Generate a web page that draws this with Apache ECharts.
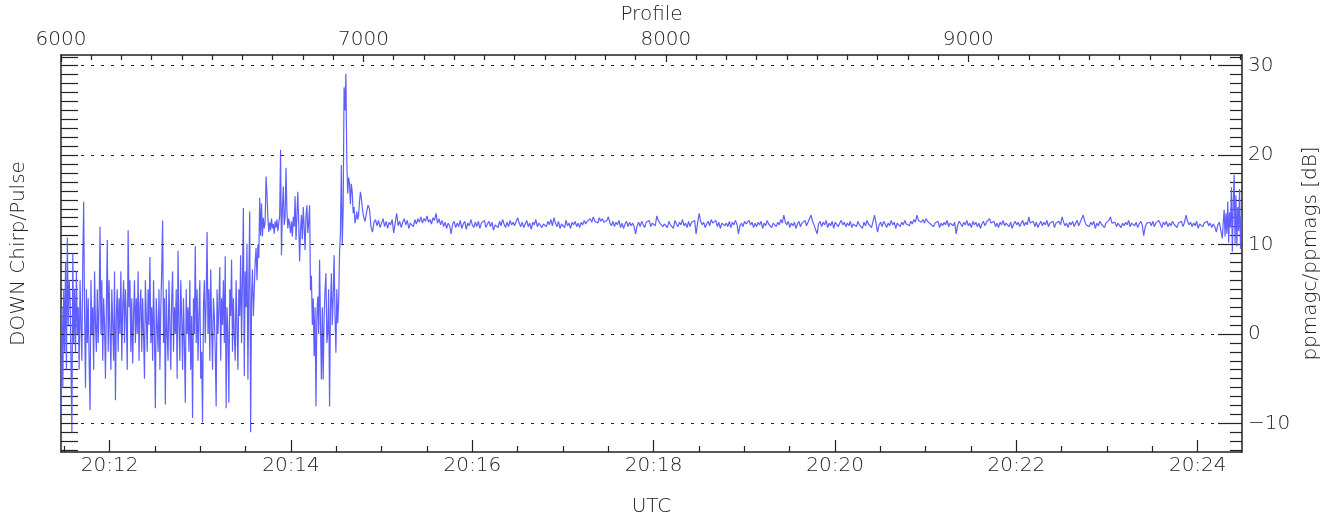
<!DOCTYPE html>
<html><head><meta charset="utf-8">
<script src="https://cdn.jsdelivr.net/npm/echarts@6/dist/echarts.min.js"></script>
<style>html,body{margin:0;padding:0;background:#fff}#chart{width:1337px;height:518px}</style>
</head><body><div id="chart"></div>
<script>
// ---- data (dB vs. profile number) ----
const noisyStartProfile = 6000, noisyStepProfile = 3;
const noisyDb = [
-9, 3, -6, 5, -2, 8, -4, 10.8, 1, 6,
4, -3, -11, 9, -1, 5, -2, 7, 0, 3,
-4, 6, 1, -3, 8, 14.8, 2, -6, 5, -1,
4, -3, -8.5, 6, 0, 3, -4, 7, 1, -2,
5, -1, 3, 12, 0, 6, -3, 4, 1, -5,
3, 10.5, -2, 6, 0, -4, 5, 1, -3, 7,
-7.4, 2, 5, -2, 4, 0, 7, -3, 3, 6,
-1, 5, 2, -4, 11.6, 3, 6, -2, 4, -3.3,
2, 6, -1, 4, 0, 7, -3, 3, 5, -2,
4, 0, -5, 6, 2, -2, 5, 1, 8.6, -1,
3, -3, 6, 0, -8.3, 4, 1, -2, 5, -4,
3, 7, 12.7, -1, 4, -7.9, 5, 0, -3, 6,
1, -4, 4, 7, -2, 3, 0, 5, -5, 9.3,
1, -3, 6, 2, -4, 4, -1, -7.7, 5, 0,
3, -2, 6, -4, 2, -9.4, 4, 0, 9.8, -1,
5, -3, 2, 6, -5, -2, -9.9, 3, 6, -1,
4, 11.4, 0, 5, -3, 7.2, 1, -4, 4, 2,
-2, -8.1, 5, 0, 3, 7.5, -3, 4, 1, 6,
-1, 8.7, -8.3, 3, 0, -7.7, 5, 2, 8.3, -2,
4, 0, -3, 6, 1, -4, 5, 2, 8.8, -1,
6, 14.1, -4.7, 7, 3, 10.1, -5.1, 6, 13.7, -11,
4, 7.2, 2, 4.9, 8, 9.6, 6, 10, 8.5, 15.2,
11, 14.6, 10.9, 13, 11.8, 12.5, 17.6, 15.7, 13, 11.4,
12.5, 11.6, 12.9, 11.8, 12.3, 11.2, 12.6, 11.9, 12.8, 11.5,
12.4, 13.2, 20.6, 8.8, 14, 16.5, 12.2, 13, 18.6, 13.7,
11.8, 12.9, 12.2, 11.3, 12.6, 10.9, 13.1, 12, 15.4, 10.5,
13.2, 15.9, 12.4, 8.1, 11.6, 13.3, 10.6, 14.2, 12, 9.4,
13.1, 14.4, 11.3, 12.5, 14.4, 4.9, 6.5, 1, 4, -2.5,
3, -8.1, 2, 4.2, 0, 8.3, 1, -5.1, 3, -5.1,
2, 4.9, 6.8, -1, 0.1, 5, -8.1, 3, 6.8, 1,
4, 8.8, 2, -2.1, 5, 1.2, 3.5, 9, 11.4, 18.9,
10, 14, 27.6, 25, 29.1, 19.4, 15.7, 17.5, 16.8, 14.5,
16.8, 15.9, 13.5, 14.2, 12.4, 12.9, 13.7, 12.8, 13.3, 14.8,
15.9, 15.2, 14.2
];
const flatStartProfile = 7000, flatStepProfile = 5;
const flatDb = [
13.2, 12.6, 12.4, 14.4, 14.0, 12.0, 11.4, 12.5, 12.8, 12.1, 12.7, 11.9, 12.4, 12.9, 12.0, 12.6, 11.8, 12.5, 12.2, 12.8,
11.3, 12.4, 13.5, 12.1, 12.6, 11.9, 12.5, 12.9, 12.2, 12.7, 11.8, 12.4, 12.6, 12.0, 12.8, 12.3, 12.9, 12.5, 13.1, 12.4,
12.9, 12.6, 13.2, 12.5, 12.8, 12.3, 13.0, 12.7, 13.5, 12.4, 12.9, 12.2, 12.7, 12.0, 12.5, 11.8, 12.4, 12.1, 11.2, 12.3,
12.6, 11.9, 12.4, 12.0, 12.7, 11.8, 12.3, 12.6, 11.7, 12.4, 12.1, 12.8, 12.2, 11.9, 12.5, 12.0, 12.6, 11.8, 12.4, 12.2,
12.7, 11.9, 12.3, 12.6, 12.0, 12.5, 11.6, 12.2, 12.4, 11.9, 12.6, 12.1, 12.8, 12.3, 11.9, 12.5, 12.0, 12.7, 12.2, 12.5,
12.1, 12.6, 13.0, 12.4, 12.0, 12.5, 11.9, 12.3, 12.7, 12.0, 12.4, 11.7, 12.5, 12.2, 12.8, 12.0, 12.4, 12.6, 11.9, 12.3,
12.5, 12.0, 12.6, 12.2, 12.8, 12.1, 13.0, 12.4, 12.0, 12.6, 11.8, 12.3, 12.5, 11.9, 12.7, 12.1, 12.4, 11.8, 12.5, 12.2,
12.6, 12.0, 12.4, 11.9, 12.5, 12.2, 12.7, 12.3, 12.6, 12.4, 12.9, 12.5, 13.1, 12.6, 12.8, 12.4, 13.0, 12.6, 12.9, 12.5,
12.3, 12.7, 13.1, 12.4, 12.1, 12.6, 12.0, 12.5, 12.2, 12.7, 11.9, 12.4, 11.8, 12.3, 12.6, 12.0, 12.5, 12.1, 12.4, 12.0,
11.2, 12.1, 12.5, 12.0, 12.6, 12.2, 11.9, 12.5, 12.3, 12.7, 12.0, 12.4, 12.6, 12.1, 13.2, 12.7, 12.4, 12.6, 12.0, 12.3,
12.5, 11.9, 12.6, 12.2, 12.4, 11.8, 12.7, 12.3, 12.0, 12.5, 12.2, 12.8, 12.1, 12.4, 11.9, 12.6, 12.0, 12.5, 12.3, 12.7,
11.2, 12.4, 13.5, 12.6, 12.2, 12.5, 11.9, 12.3, 12.6, 12.1, 12.8, 12.4, 12.2, 12.7, 12.0, 12.5, 11.8, 12.4, 12.6, 12.1,
12.4, 12.0, 12.6, 11.9, 12.5, 12.2, 12.7, 12.3, 11.2, 12.1, 12.4, 12.0, 12.6, 12.3, 12.1, 12.7, 12.2, 12.5, 11.9, 12.4,
12.0, 12.5, 12.2, 12.6, 11.8, 12.4, 12.1, 12.7, 12.3, 12.5, 11.9, 12.4, 12.6, 12.0, 12.5, 12.2, 12.8, 12.4, 13.3, 12.5,
12.2, 12.6, 11.9, 12.4, 12.1, 12.5, 11.8, 12.3, 12.6, 12.0, 12.4, 12.2, 12.7, 12.1, 12.5, 12.3, 13.3, 12.6, 12.2, 12.4,
11.2, 12.3, 12.6, 12.0, 12.5, 12.2, 12.7, 11.9, 12.4, 12.1, 12.6, 11.8, 12.5, 12.3, 12.0, 12.4, 12.7, 12.2, 12.5, 12.0,
12.4, 12.1, 12.6, 11.9, 12.3, 12.5, 12.0, 12.6, 12.2, 12.4, 11.8, 12.5, 12.1, 12.7, 12.3, 12.5, 11.9, 12.6, 13.3, 12.4,
11.4, 12.2, 12.5, 12.0, 12.6, 12.3, 11.9, 12.4, 12.1, 12.7, 12.2, 12.5, 11.8, 12.4, 12.6, 12.0, 12.5, 12.2, 12.7, 12.3,
12.5, 12.1, 12.6, 12.3, 12.8, 12.5, 13.3, 12.7, 12.9, 12.5, 12.8, 12.4, 12.9, 12.6, 12.7, 12.3, 12.5, 12.0, 12.4, 12.2,
12.6, 11.9, 12.4, 12.1, 12.5, 12.2, 12.7, 12.0, 12.4, 12.6, 12.1, 12.5, 11.2, 12.2, 12.6, 12.3, 12.0, 12.5, 12.2, 12.7,
12.1, 12.4, 11.9, 12.6, 12.2, 12.5, 12.0, 12.4, 11.8, 12.3, 12.6, 12.1, 12.5, 12.3, 12.9, 12.4, 12.2, 12.6, 12.0, 12.4,
11.9, 12.5, 12.2, 12.7, 12.1, 12.4, 12.6, 12.0, 12.5, 11.8, 12.3, 12.6, 12.2, 12.5, 12.0, 12.4, 12.7, 12.1, 12.5, 12.2,
13.1, 12.4, 12.2, 12.6, 12.0, 12.5, 11.9, 12.3, 12.6, 12.1, 12.5, 12.2, 12.7, 12.0, 12.4, 12.2, 12.6, 11.9, 12.4, 12.3,
12.6, 12.2, 13.1, 12.5, 12.1, 12.4, 11.9, 12.5, 12.2, 12.6, 12.0, 12.4, 12.7, 12.1, 12.5, 12.3, 13.3, 12.6, 12.2, 12.4,
12.0, 12.5, 12.2, 12.6, 11.8, 12.4, 12.1, 12.6, 12.3, 12.5, 11.9, 12.4, 12.2, 12.7, 13.1, 12.4, 12.2, 12.5, 12.0, 12.4,
12.6, 11.9, 12.4, 12.1, 12.5, 12.2, 12.7, 12.0, 12.4, 12.6, 12.1, 12.5, 11.9, 12.3, 12.6, 12.2, 11.0, 12.0, 12.4, 12.2,
12.5, 12.1, 12.6, 12.0, 12.4, 12.2, 12.7, 12.3, 11.9, 12.5, 12.2, 12.6, 12.0, 12.4, 12.1, 12.6, 12.3, 12.5, 11.9, 12.4,
12.2, 12.6, 12.0, 12.5, 13.3, 12.6, 12.2, 12.5, 12.0, 12.4, 12.1, 12.6, 11.8, 12.3, 12.5, 12.0, 12.4, 12.2, 12.6, 12.1,
12.4, 11.9, 12.3, 12.0, 11.4, 12.2, 12.5, 11.6, 10.7
];
const endStartProfile = 9843, endStepProfile = 3;
const endDb = [12.5, 13.9, 10.9, 13.5, 11.2, 14.8, 10.2, 13.6, 11.9, 16.4,
  9.2, 14.6, 17.8, 10.1, 15.5, 9.8, 14.2, 11.5, 16.2, 9.5, 13.1];

const profileTickLabels = ['6000', '7000', '8000', '9000'];
const utcTickLabels = ['20:12', '20:14', '20:16', '20:18', '20:20', '20:22', '20:24'];
const dbTickLabels = ['\u221210', '0', '10', '20', '30'];
const dbTickValues = [-10, 0, 10, 20, 30];
const profileRange = [6000, 9905];
const utcRangeSec = [72687.8, 73469.3];
const dbRange = [-13.2, 31.2];

// ---- build ----
function seg(start, step, vals) { return vals.map((v, i) => [start + i * step, v]); }
const lineData = [].concat(
  seg(noisyStartProfile, noisyStepProfile, noisyDb),
  seg(flatStartProfile, flatStepProfile, flatDb),
  seg(endStartProfile, endStepProfile, endDb));

const hmToSec = s => { const p = s.split(':'); return (+p[0]) * 3600 + (+p[1]) * 60; };
const utcMajor = utcTickLabels.map(hmToSec);
const utcMinor = [];
for (let t = Math.ceil(utcRangeSec[0] / 30) * 30; t <= utcRangeSec[1]; t += 30) if (t % 120 !== 0) utcMinor.push(t);
const profileMajor = profileTickLabels.map(Number);
const profileMinor = [];
for (let p = 6100; p < profileRange[1]; p += 100) if (p % 1000 !== 0) profileMinor.push(p);
const dbAll = [];
for (let d = Math.ceil(dbRange[0]); d <= Math.floor(dbRange[1]); d++) dbAll.push(d);
const dbMinor = dbAll.filter(d => d % 10 !== 0);

const txt = { fontFamily: 'DejaVu Sans', fontSize: 20, color: '#222', fontWeight: 300 };
const axLine = { show: true, onZero: false, lineStyle: { color: '#222', width: 1.5 } };
const noLine = { show: false, onZero: false };
const tickStyle = { color: '#222', width: 1.2 };

const chart = echarts.init(document.getElementById('chart'), null, { renderer: 'canvas' });
chart.setOption({
  animation: false,
  backgroundColor: '#fff',
  grid: { left: 61, right: 95, top: 55, bottom: 66, containLabel: false, outerBoundsMode: 'none' },
  xAxis: [
    { type: 'value', position: 'bottom', min: utcRangeSec[0], max: utcRangeSec[1],
      axisLine: axLine, splitLine: { show: false },
      axisTick: { show: true, inside: true, length: 12, lineStyle: tickStyle, customValues: utcMajor },
      axisLabel: Object.assign({}, txt, { margin: 4, customValues: utcMajor,
        formatter: v => utcTickLabels[utcMajor.indexOf(v)] || '' }),
      name: 'UTC', nameLocation: 'middle', nameGap: 45, nameTextStyle: Object.assign({}, txt) },
    { type: 'value', position: 'bottom', min: utcRangeSec[0], max: utcRangeSec[1],
      axisLine: noLine, splitLine: { show: false },
      axisTick: { show: true, inside: true, length: 6, lineStyle: tickStyle, customValues: utcMinor },
      axisLabel: { show: false } },
    { type: 'value', position: 'top', min: profileRange[0], max: profileRange[1],
      axisLine: axLine, splitLine: { show: false },
      axisTick: { show: true, inside: true, length: 7, lineStyle: tickStyle, customValues: profileMajor },
      axisLabel: Object.assign({}, txt, { margin: 5, customValues: profileMajor,
        formatter: v => profileTickLabels[profileMajor.indexOf(v)] || '' }),
      name: 'Profile', nameLocation: 'middle', nameGap: 24, nameTextStyle: Object.assign({}, txt) },
    { type: 'value', position: 'top', min: profileRange[0], max: profileRange[1],
      axisLine: noLine, splitLine: { show: false },
      axisTick: { show: true, inside: true, length: 5, lineStyle: tickStyle, customValues: profileMinor },
      axisLabel: { show: false } }
  ],
  yAxis: [
    { type: 'value', position: 'left', min: dbRange[0], max: dbRange[1],
      axisLine: axLine, splitLine: { show: false },
      axisTick: { show: true, inside: true, length: 17, lineStyle: tickStyle, customValues: dbAll },
      axisLabel: { show: false },
      name: 'DOWN Chirp/Pulse', nameLocation: 'middle', nameGap: 32, nameRotate: 90,
      nameTextStyle: Object.assign({}, txt) },
    { type: 'value', position: 'right', min: dbRange[0], max: dbRange[1],
      axisLine: axLine, splitLine: { show: false },
      axisTick: { show: true, inside: true, length: 24, lineStyle: tickStyle, customValues: dbTickValues },
      axisLabel: Object.assign({}, txt, { margin: 6, customValues: dbTickValues,
        formatter: v => dbTickLabels[dbTickValues.indexOf(v)] || '' }),
      name: 'ppmagc/ppmags [dB]', nameLocation: 'middle', nameGap: 55, nameRotate: 90,
      nameTextStyle: Object.assign({}, txt) },
    { type: 'value', position: 'right', min: dbRange[0], max: dbRange[1],
      axisLine: noLine, splitLine: { show: false },
      axisTick: { show: true, inside: true, length: 12, lineStyle: tickStyle, customValues: dbMinor },
      axisLabel: { show: false } }
  ],
  series: [{
    type: 'line', xAxisIndex: 2, yAxisIndex: 0, data: lineData,
    symbol: 'none', showSymbol: false, sampling: null,
    lineStyle: { color: '#5f5fff', width: 1.2 },
    markLine: { silent: true, symbol: ['none', 'none'], label: { show: false },
      lineStyle: { type: [3, 7], color: '#222', width: 1 },
      data: dbTickValues.map(v => ({ yAxis: v })) }
  }]
});
</script></body></html>
